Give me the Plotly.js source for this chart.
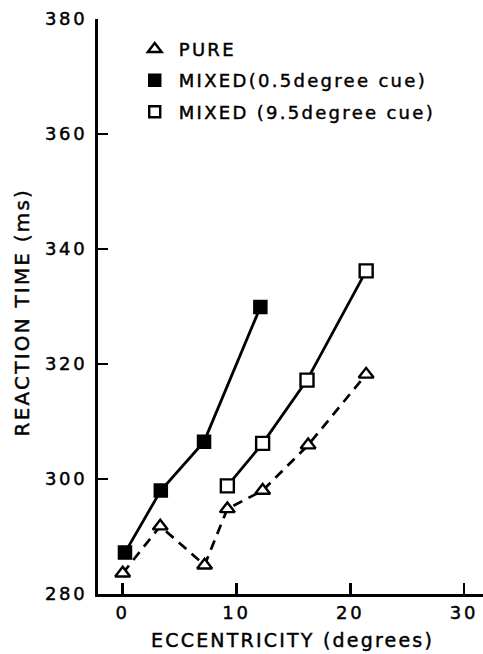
<!DOCTYPE html>
<html>
<head>
<meta charset="utf-8">
<script src="https://cdn.plot.ly/plotly-3.0.1.min.js"></script>
<style>
  html, body { margin: 0; padding: 0; background: #fff; }
  #chart { width: 483px; height: 654px; }
  .ytick text, .xtick text { letter-spacing: 2.7px; stroke: #000; stroke-width: 0.45px; }
  .legendtext { letter-spacing: 2.3px; stroke: #000; stroke-width: 0.45px; }
  .annotation-text { letter-spacing: 2.2px; stroke: #000; stroke-width: 0.45px; }
</style>
</head>
<body>
<div id="chart"></div>
<script>
// Data
const pureX = [0.0, 3.3, 7.2, 9.2, 12.3, 16.3, 21.4];
const pureY = [283.6, 291.8, 285.0, 294.8, 298.0, 305.9, 318.2];

const mixed05X = [0.2, 3.35, 7.15, 12.1];
const mixed05Y = [287.2, 298.0, 306.5, 329.9];

const mixed95X = [9.2, 12.3, 16.2, 21.4];
const mixed95Y = [298.8, 306.2, 317.2, 336.2];

const xTicks = [0, 10, 20, 30];
const yTicks = [280, 300, 320, 340, 360, 380];

const legendNames = ["PURE", "MIXED(0.5degree cue)", "MIXED (9.5degree cue)"];

const FONT = "DejaVu Sans, Verdana, sans-serif";

const traces = [
  {
    x: pureX, y: pureY, mode: "lines+markers", showlegend: false,
    line: { color: "#000", width: 2.7, dash: "10px,7px" },
    marker: { symbol: "triangle-up", size: 13, color: "#fff", line: { color: "#000", width: 2.4 } }
  },
  {
    x: mixed05X, y: mixed05Y, mode: "lines+markers", showlegend: false,
    line: { color: "#000", width: 2.8 },
    marker: { symbol: "square", size: 13, color: "#000", line: { color: "#000", width: 1.5 } }
  },
  {
    x: mixed95X, y: mixed95Y, mode: "lines+markers", showlegend: false,
    line: { color: "#000", width: 2.8 },
    marker: { symbol: "square", size: 13, color: "#fff", line: { color: "#000", width: 2.4 } }
  },
  // legend entries (markers only)
  {
    x: [null], y: [null], mode: "markers", name: legendNames[0], legendgroup: "a",
    marker: { symbol: "triangle-up", size: 12, color: "#fff", line: { color: "#000", width: 2.4 } }
  },
  {
    x: [null], y: [null], mode: "markers", name: legendNames[1], legendgroup: "b",
    marker: { symbol: "square", size: 12, color: "#000", line: { color: "#000", width: 1.5 } }
  },
  {
    x: [null], y: [null], mode: "markers", name: legendNames[2], legendgroup: "c",
    marker: { symbol: "square", size: 11, color: "#fff", line: { color: "#000", width: 2.4 } }
  }
];

const layout = {
  width: 483, height: 654,
  margin: { l: 98, r: 0, t: 19, b: 60 },
  paper_bgcolor: "#fff", plot_bgcolor: "#fff",
  font: { family: FONT, color: "#000", size: 18 },
  showlegend: true,
  legend: {
    x: 0.085, xanchor: "left", y: 0.9796, yanchor: "top",
    bgcolor: "rgba(0,0,0,0)", borderwidth: 0,
    traceorder: "grouped", tracegroupgap: 5, itemwidth: 38,
    font: { family: FONT, size: 18, color: "#000" },
    itemclick: false, itemdoubleclick: false
  },
  xaxis: {
    range: [-2.171, 31.67], tickmode: "array", tickvals: xTicks, ticktext: xTicks.map(String),
    showgrid: false, zeroline: false, showline: true, linecolor: "#000", linewidth: 3,
    ticks: "inside", ticklen: 11, tickwidth: 2.7, tickcolor: "#000",
    tickfont: { family: FONT, size: 18, color: "#000" }, fixedrange: true
  },
  yaxis: {
    range: [280, 380], tickmode: "array", tickvals: yTicks, ticktext: yTicks.map(String),
    showgrid: false, zeroline: false, showline: true, linecolor: "#000", linewidth: 3,
    ticks: "inside", ticklen: 10, tickwidth: 2.7, tickcolor: "#000",
    tickfont: { family: FONT, size: 18, color: "#000" }, ticklabelstandoff: 4, fixedrange: true
  },
  annotations: [
    {
      text: "ECCENTRICITY (degrees)", xref: "paper", yref: "paper",
      x: 0.505, y: -0.08, xanchor: "center", yanchor: "middle", showarrow: false,
      font: { family: FONT, size: 19, color: "#000" }
    },
    {
      text: "REACTION TIME (ms)", xref: "paper", yref: "paper",
      x: -0.197, y: 0.49, xanchor: "center", yanchor: "middle", showarrow: false, textangle: -90,
      font: { family: FONT, size: 20, color: "#000" }
    }
  ]
};

Plotly.newPlot("chart", traces, layout, { displayModeBar: false, staticPlot: true });
</script>
</body>
</html>
